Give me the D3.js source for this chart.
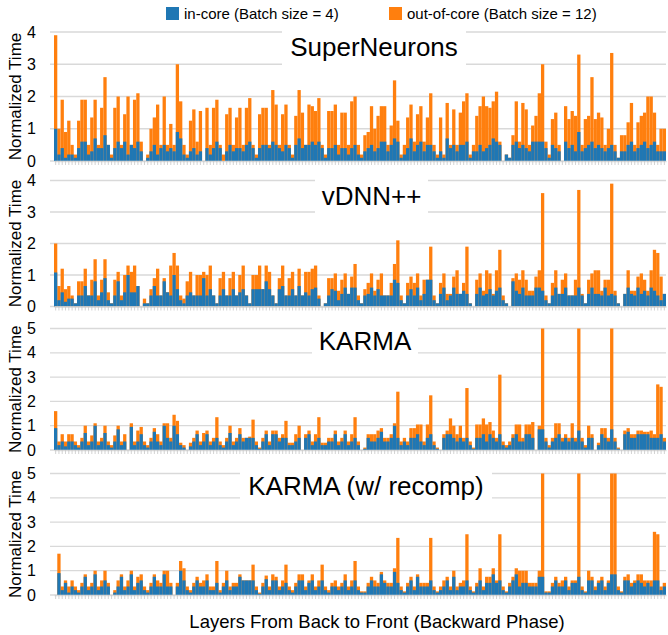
<!DOCTYPE html>
<html>
<head>
<meta charset="utf-8">
<script src="https://cdn.jsdelivr.net/npm/d3@7"></script>
<style>
  body { margin: 0; background: #fff; }
  svg text { font-family: "Liberation Sans", Arial, sans-serif; fill: #000; }
</style>
</head>
<body>
<svg id="chart" width="668" height="635"></svg>
<script>
// normalized time per layer (orange = out-of-core, blue = in-core)
const superNeuronsOut = [
  3.9,1.0,1.9,0.9,1.25,0.5,0.2,1.25,1.9,1.9,0.5,1.35,1.9,0.5,1.65,2.6,0.5,0.2,1.65,2.0,0.5,1.45,2.0,0.5,1.9,2.1,0.6,
  0,
  0.2,1.0,1.35,1.75,0.5,2.0,0.5,1.15,0.5,3.0,1.85,0.5,0.2,1.25,1.6,0.6,1.55,
  0,
  1.65,0.5,1.65,1.9,0.5,0.2,1.45,1.65,0.5,1.35,1.65,0.5,1.65,1.95,0.5,0.2,1.45,1.65,1.65,0.5,
  2.2,1.75,0.5,1.45,1.75,0.5,0.2,1.4,2.2,1.5,0.5,1.75,1.7,1.55,1.95,0.5,0.2,1.55,1.55,
  1.75,0.5,1.5,1.5,0.5,1.85,2.0,0.5,0.2,0.8, 0.9,1.7,1.0,1.4,1.7,1.7,0.5,1.1,2.5,1.25,
  0.2,0.5,1.35,1.75,0.6,1.45,1.7,0.6,1.35,2.1, 0.5,0.2,1.35,0.2,1.8,0.5,1.6,0.5,1.5,1.85,
  2.1,0.2,0.5,1.4,1.7,2.0,1.7,1.65,1.85,2.15, 0.6,0,0.2,0.1,0.8,1.85,0.6,1.8,1.6,0.5,
  1.1,1.4,2.1,3.0,0.6,0.2,1.3,1.5,0.5,0, 1.7,1.3,1.55,1.4,3.3,0.5,1.3,1.4,2.6,1.3,
  1.5,1.35,0.5,1.0,3.35,0.5,0.1,0.8,0.8,1.2, 1.8,0.5,1.2,1.4,1.5,2.0,2.0,1.5,0.5,1.0,
  1.0
];
const superNeuronsIn = [
  1.0,0.2,0.4,0.1,0.2,0.2,0.1,0.4,0.6,0.6,0.2,0.3,0.7,0.4,0.4,0.8,0.5,0.1,0.4,0.6,0.4,0.6,0.2,0.5,0.4,0.6,0.3,
  0,
  0.1,0.3,0.5,0.2,0.4,0.5,0.3,0.4,0.3,0.9,0.7,0.2,0.1,0.3,0.4,0.2,0.3,
  0,
  0.4,0.2,0.4,0.6,0.4,0,0.3,0.5,0.3,0.4,0.4,0.3,0.5,0.6,0.4,0.1,0.4,0.5,0.5,0.4,
  0.6,0.5,0.4,0.3,0.5,0.4,0.1,0.5,0.7,0.4,0.5,0.5,0.6,0.5,0.6,0.4,0.1,0.4,0.4,
  0.5,0.2,0.4,0.4,0.2,0.4,0.5,0.2,0.1,0.3, 0.4,0.5,0.3,0.4,0.6,0.6,0.3,0.5,0.7,0.6,
  0.1,0.2,0.4,0.7,0.3,0.5,0.6,0.3,0.5,0.5, 0.3,0.1,0.3,0.1,0.7,0.4,0.5,0.3,0.5,0.5,
  0.6,0.1,0.3,0.3,0.5,0.3,0.4,0.5,0.7,0.6, 0.5,0,0.2,0.1,0.5,0.6,0.4,0.5,0.4,0.3,
  0.6,0.6,0.6,0.6,0.4,0.1,0.5,0.4,0.3,0, 0.6,0.4,0.5,0.3,0.9,0.3,0.4,0.5,0.6,0.4,
  0.5,0.4,0.3,0.4,0.5,0.3,0.1,0.3,0.3,0.5, 0.6,0.3,0.4,0.5,0.6,0.4,0.5,0.6,0.3,0.3,
  0.3
];
const vdnnOut = [
  2.0,0.65,1.2,0.55,0.65,0.35,0.1,0.8,0.8,1.2,0.35,0.85,1.5,0.35,0.85,1.5,0.45,0.1,0.85,1.1,0.35,1.0,1.3,1.1,1.3,0.65,
  0,
  0.25,0.1,0.55,0.9,1.2,0.35,0.9,0.45,1.3,1.7, 1.3,0.35,0.25,0.8,1.1,0.35,1.0,1.0,1.1,1.0,
  1.3,0.35,0.1,0.9,1.1,0.35,0.9,1.1,0.35,1.0, 1.3,0.35,0.1,1.0,1.0,1.3,0.55,1.3,1.1,0.35,
  0.1,0.9,1.3,0.35,0.9,1.1,0.35,1.2,0.35,1.1, 1.1,1.2,1.3,0.35,0,0.1,0.9,0.9,
  1.05,0.5,0.85,1.05,0.4,0.95,1.35,0.35,0.1,0.55, 0.75,1.05,0.5,0.85,1.05,0.35,0.35,0.75,1.35,2.1,
  0.35,0.1,0.75,0.95,0.75,1.05,0.35,0.85,0.85,1.9, 0.35,0.1,0.75,1.05,0.4,0.4,0.95,1.15,0.4,0.75,
  1.9,0.1,0,0.85,1.05,0.5,1.15,1.05,0.4,1.15, 1.8,0.35,0.1,0,0.9,1.05,0.85,1.15,0.85,0.5,
  0.5,0.95,1.15,3.6,0.35,0.1,0.75,1.15,0.4,0.85, 1.05,0.35,0.35,0.85,3.7,0.4,0.1,0.85,1.05,1.15,
  1.15,0.5,0.85,0.85,3.9,0.5,0.1,0,0.4,1.15, 0.5,0.5,0.95,1.05,0.85,0.5,1.15,1.8,1.7,0.95,
  0.4
];
const vdnnIn = [
  1.08,0.2,0.45,0.15,0.25,0.25,0.1,0.35,0.35,0.65,0.35,0.35,0.8,0.2,0.45,0.9,0.2,0.1,0.35,0.8,0.2,0.45,1.0,0.45,0.45,0.65,
  0,
  0.1,0.1,0.35,0.65,0.35,0.35,0.8,0.45,0.35,1.0, 0.55,0.2,0.1,0.35,0.45,0.35,0.35,0.35,0.9,0.35,
  0.55,0.35,0.1,0.35,0.55,0.35,0.35,0.55,0.35,0.45, 0.55,0.35,0.1,0.55,0.55,0.55,0.55,0.8,0.55,0.35,
  0.1,0.55,0.65,0.35,0.35,0.55,0.35,0.65,0.35,0.45, 0.35,0.55,0.6,0.25,0,0.1,0.35,0.55,
  0.5,0.2,0.4,0.6,0.4,0.6,0.6,0.2,0.1,0.35, 0.4,0.6,0.35,0.55,0.35,0.35,0.35,0.35,0.85,0.75,
  0.2,0.1,0.35,0.55,0.35,0.6,0.2,0.4,0.85,0.85, 0.2,0.1,0.4,0.6,0.2,0.35,0.6,0.4,0.4,0.5,
  0.4,0.1,0,0.4,0.6,0.35,0.4,0.55,0.35,0.5, 0.6,0.2,0.1,0,0.8,0.5,0.4,0.6,0.35,0.35,
  0.35,0.6,0.6,0.5,0.2,0.1,0.35,0.6,0.4,0.4, 0.6,0.35,0.35,0.35,0.6,0.35,0.1,0.4,0.6,0.4,
  0.4,0.35,0.6,0.35,0.4,0.35,0.1,0,0.4,0.6, 0.4,0.35,0.6,0.4,0.5,0.35,0.6,0.5,0.35,0.2,
  0.4
];
const karmaOut = [
  1.6,0.35,0.65,0.35,0.65,0.65,0.35,0.2,0.5,1.0,0.35,0.6,1.1,0.35,0.5,1.0,0.35,0.2,0.6,1.0,0.35,0.65,
  0,
  1.1,0.35,0.8,0.95,0.35,0.2,0.5,0.9,0.65,0.35,1.1,1.1,0.5,1.45,1.2,0.3,0.2,
  0,
  0.3,0.5,0.8,0.35,0.7,0.8,0.35,0.5,1.35,0.35,0.2,0.5,1.0,0.35,0.5,0.9,0.5,0.5,0.55,1.25,
  0.35,0.1,0.5,0.8,0.35,0.8,0.8,0.5,0.65,1.2,0.3,0.3,0.65,1.0,
  0,
  0.65,0.8,0.35,0.65,1.35,0.3,0.3,0.5,0.5,
  0.8,0.35,0.5,0.8,0.35,0.65,1.35,0.35,0,0.1, 0.65,0.65,0.65,0.8,0.9,0.5,0.5,0.65,1.1,2.4,
  0.35,0.5,0.35,0.9,0.9,1.05,1.05,0.35,1.05,2.25, 0.35,0.1,0,0.65,0.8,1.3,1.0,0.65,1.0,0.5,
  2.55,0.35,0.1,1.05,1.05,1.3,1.05,1.15,0.8,0.5, 3.1,0.35,0.2,0.35,0.65,1.05,1.05,0.5,1.05,1.05,
  1.15,0,1.0,5.0,0.5,0.2,0.5,1.1,1.1,0.5, 0.65,0.5,1.1,0.5,5.0,0.5,0.2,1.0,0.65,0,
  0.3,0.9,0.9,0.5,5.0,0.5,0.1,0,0.8,0.9, 0.65,0.65,0.8,0.8,0.75,0.75,0.8,0.65,2.7,2.6,
  0.5
];
const karmaIn = [
  0.9,0.2,0.35,0.15,0.35,0.35,0.2,0.1,0.35,0.7,0.2,0.35,1.0,0.2,0.35,0.7,0.2,0.1,0.35,0.85,0.2,0.35,
  0,
  0.95,0.2,0.35,0.65,0.2,0.1,0.35,0.75,0.35,0.2,1.0,0.5,0.35,1.0,0.65,0.2,0.1,
  0,
  0.15,0.35,0.65,0.2,0.35,0.65,0.2,0.35,0.5,0.2,0.1,0.35,0.7,0.2,0.35,0.65,0.35,0.5,0.5,0.5,
  0.2,0.05,0.35,0.65,0.2,0.65,0.65,0.35,0.5,0.5,0.2,0.2,0.35,0.5,
  0,
  0.5,0.65,0.2,0.35,0.5,0.2,0.2,0.35,0.35,
  0.65,0.2,0.35,0.65,0.2,0.35,0.5,0.2,0,0.05, 0.5,0.35,0.35,0.5,0.75,0.35,0.35,0.5,1.0,0.5,
  0.2,0.35,0.2,0.5,0.5,0.65,0.35,0.2,0.5,0.65, 0.2,0.05,0,0.5,0.65,0.65,0.5,0.35,0.5,0.35,
  0.5,0.2,0.05,0.5,0.5,0.65,0.35,0.65,0.5,0.35, 0.65,0.2,0.1,0.2,0.5,0.65,0.35,0.35,0.65,0.65,
  0.5,0,0.85,0.85,0.35,0.1,0.35,0.5,0.65,0.35, 0.5,0.35,0.5,0.35,0.8,0.35,0.1,0.5,0.5,0,
  0.2,0.65,0.5,0.35,0.85,0.35,0.05,0,0.65,0.75, 0.5,0.5,0.65,0.65,0.65,0.65,0.5,0.5,0.5,0.65,
  0.35
];
const recompOut = [
  0,1.7,0.35,0.6,0.35,0.6,0.35,0.2,0.5,0.85, 0.35,0.5,1.0,0.35,0.6,1.0,0.5,0,0.2,0.6,
  0.85,0.35,0.6,1.0,0.35,0.75,0.85,0.35,0.2,0.5, 0.85,0.6,0.5,1.0,1.0,0.5,0,0.5,1.4,1.1,
  0.35,0.2,0.5,0.75,0.5,0.6,0.85,0.35,0.35,1.4, 0.2,0.5,1.0,0.35,0.5,0.5,0.85,0.6,0.6,0.6,
  1.25,0.35,0.1,0.5,0.8,0.35,0.85,0.75,0.35,0.6, 1.25,0.35,0.2,0.5,0.85,0.85,0.35,0.6,0.85,0.35,
  0.6,1.25,0.35,0.2,0.5,
  0.6,0.35,0.5,0.85,0.35,0.6,1.4,0.35,0.15,0.15, 0.5,0.75,0.6,0.5,0.95,0.6,0.5,0.5,1.1,2.35,
  0.35,0.15,0.5,0.75,0.35,0.85,0.5,0.5,0.5,2.35, 0.35,0.15,0.35,0.6,0.75,0.35,1.0,0.35,0.5,0.6,
  2.5,0.35,0.15,0.5,1.1,0.35,0.75,0.75,1.1,0.6, 2.5,0.35,0.15,0.5,0.75,1.1,1.0,1.0,1.0,0.5,
  0.5,0.5,1.0,5.0,0.15,0.15,0.5,0.75,0.5,0.6, 0.75,0.35,0.6,0.6,5.0,0.35,0.15,1.0,0.75,0.35,
  0.6,0.75,0.35,0.6,5.0,5.0,0.35,0.15,0.75,0.85, 0.5,0.6,0.85,0.85,0.6,0.6,0.6,2.6,2.5,0.35,
  0.5
];
const recompIn = [
  0,0.9,0.2,0.5,0.1,0.35,0.2,0.1,0.35,0.75, 0.2,0.35,0.85,0.2,0.35,0.6,0.35,0,0.1,0.35,
  0.75,0.2,0.35,0.85,0.2,0.5,0.6,0.2,0.1,0.35, 0.75,0.35,0.35,0.85,0.35,0.35,0,0.35,1.0,0.6,
  0.2,0.1,0.35,0.6,0.35,0.35,0.6,0.2,0.2,0.5, 0.1,0.35,0.6,0.2,0.35,0.35,0.75,0.6,0.6,0.6,
  0.6,0.2,0.05,0.35,0.65,0.2,0.6,0.6,0.2,0.35, 0.5,0.2,0.1,0.35,0.6,0.6,0.2,0.5,0.6,0.2,
  0.35,0.6,0.2,0.1,0.35,
  0.35,0.2,0.35,0.6,0.2,0.35,0.6,0.2,0.1,0.1, 0.35,0.6,0.35,0.35,0.85,0.5,0.35,0.35,0.95,0.5,
  0.2,0.1,0.35,0.6,0.2,0.75,0.35,0.35,0.35,0.6, 0.2,0.1,0.2,0.35,0.6,0.2,0.75,0.2,0.35,0.35,
  0.6,0.2,0.1,0.35,0.6,0.2,0.5,0.5,0.85,0.5, 0.6,0.2,0.1,0.35,0.6,0.85,0.35,0.5,0.5,0.35,
  0.35,0.35,0.75,0.75,0.1,0.1,0.35,0.6,0.35,0.35, 0.6,0.2,0.5,0.5,0.75,0.2,0.1,0.6,0.6,0.2,
  0.5,0.6,0.2,0.5,0.85,0.85,0.2,0.1,0.6,0.6, 0.35,0.5,0.6,0.5,0.35,0.5,0.35,0.6,0.6,0.2,
  0.35
];

const panelTitles = ['SuperNeurons', 'vDNN++', 'KARMA', 'KARMA (w/ recomp)'];
const yTicks4 = [0, 1, 2, 3, 4];
const yTicks5 = [0, 1, 2, 3, 4, 5];
const legendLabels = ['in-core (Batch size = 4)', 'out-of-core (Batch size = 12)'];
const layers = d3.range(superNeuronsOut.length);

const colorIn = '#1f77b4';
const colorOut = '#ff7f0e';
const gridColor = '#d9d9d9';

// layout of the four stacked panels (pixel positions only)
const panels = [
  {title: panelTitles[0], out: superNeuronsOut, inc: superNeuronsIn, ticks: yTicks4, y0: 161, yTop: 32,
   titleY: 56, box: [282, 27, 184, 45]},
  {title: panelTitles[1], out: vdnnOut, inc: vdnnIn, ticks: yTicks4, y0: 306.5, yTop: 180.5,
   titleY: 205, box: [315, 176, 113, 44]},
  {title: panelTitles[2], out: karmaOut, inc: karmaIn, ticks: yTicks5, y0: 450, yTop: 328.5,
   titleY: 350, box: [312, 324, 106, 36]},
  {title: panelTitles[3], out: recompOut, inc: recompIn, ticks: yTicks5, y0: 595, yTop: 473.5,
   titleY: 495, box: [240, 469, 252, 36]}
];

const svg = d3.select('#chart');
const plotLeft = 50, plotRight = 666;

const x = d3.scaleBand()
  .domain(layers)
  .range([54, 666])
  .padding(0);

panels.forEach(p => {
  const yMax = d3.max(p.ticks);
  const y = d3.scaleLinear().domain([0, yMax]).range([p.y0, p.yTop]);
  const g = svg.append('g');

  // gridlines
  g.selectAll('line.grid')
    .data(p.ticks)
    .join('line')
    .attr('class', 'grid')
    .attr('x1', plotLeft).attr('x2', plotRight)
    .attr('y1', d => y(d)).attr('y2', d => y(d))
    .attr('stroke', gridColor)
    .attr('stroke-width', 1.3);

  // white patch behind the panel title
  g.append('rect')
    .attr('x', p.box[0]).attr('y', p.box[1])
    .attr('width', p.box[2]).attr('height', p.box[3])
    .attr('fill', '#fff');

  g.append('text')
    .attr('x', p.box[0] + p.box[2] / 2)
    .attr('y', p.titleY)
    .attr('text-anchor', 'middle')
    .style('font-size', '26px')
    .text(p.title);

  // out-of-core bars behind, in-core bars in front
  g.selectAll('rect.out')
    .data(layers)
    .join('rect')
    .attr('class', 'out')
    .attr('x', i => x(i))
    .attr('width', x.bandwidth())
    .attr('y', i => y(Math.min(p.out[i], yMax)))
    .attr('height', i => p.y0 - y(Math.min(p.out[i], yMax)))
    .attr('fill', colorOut);

  g.selectAll('rect.inc')
    .data(layers)
    .join('rect')
    .attr('class', 'inc')
    .attr('x', i => x(i))
    .attr('width', x.bandwidth())
    .attr('y', i => y(p.inc[i]))
    .attr('height', i => p.y0 - y(p.inc[i]))
    .attr('fill', colorIn);

  // category ticks along the bottom
  const xAxis = g.append('g')
    .attr('transform', `translate(0,${p.y0})`)
    .call(d3.axisBottom(x).tickSize(4).tickSizeOuter(0).tickFormat(''));
  xAxis.select('.domain').attr('stroke', gridColor).attr('stroke-width', 1.3);
  xAxis.selectAll('.tick line').attr('stroke', '#c8c8c8').attr('stroke-width', 0.8);

  const yAxis = g.append('g')
    .attr('transform', `translate(${plotLeft},0)`)
    .call(d3.axisLeft(y).tickValues(p.ticks).tickSize(0).tickPadding(14).tickFormat(d3.format('d')));
  yAxis.select('.domain').remove();
  yAxis.selectAll('text')
    .style('font-size', '16px')
    .style('font-family', '"Liberation Sans", Arial, sans-serif')
    .attr('fill', '#000');

  g.append('text')
    .attr('transform', `translate(21,${(p.y0 + p.yTop) / 2}) rotate(-90)`)
    .attr('text-anchor', 'middle')
    .style('font-size', '17px')
    .text('Normalized Time');
});

// legend
const legend = svg.append('g');
[[166, colorIn, legendLabels[0]], [389, colorOut, legendLabels[1]]].forEach(([lx, c, label]) => {
  legend.append('rect')
    .attr('x', lx).attr('y', 7)
    .attr('width', 13).attr('height', 13)
    .attr('fill', c);
  legend.append('text')
    .attr('x', lx + 18).attr('y', 19)
    .style('font-size', '15px')
    .text(label);
});

svg.append('text')
  .attr('x', 377)
  .attr('y', 628)
  .attr('text-anchor', 'middle')
  .style('font-size', '18.5px')
  .text('Layers From Back to Front (Backward Phase)');
</script>
</body>
</html>
